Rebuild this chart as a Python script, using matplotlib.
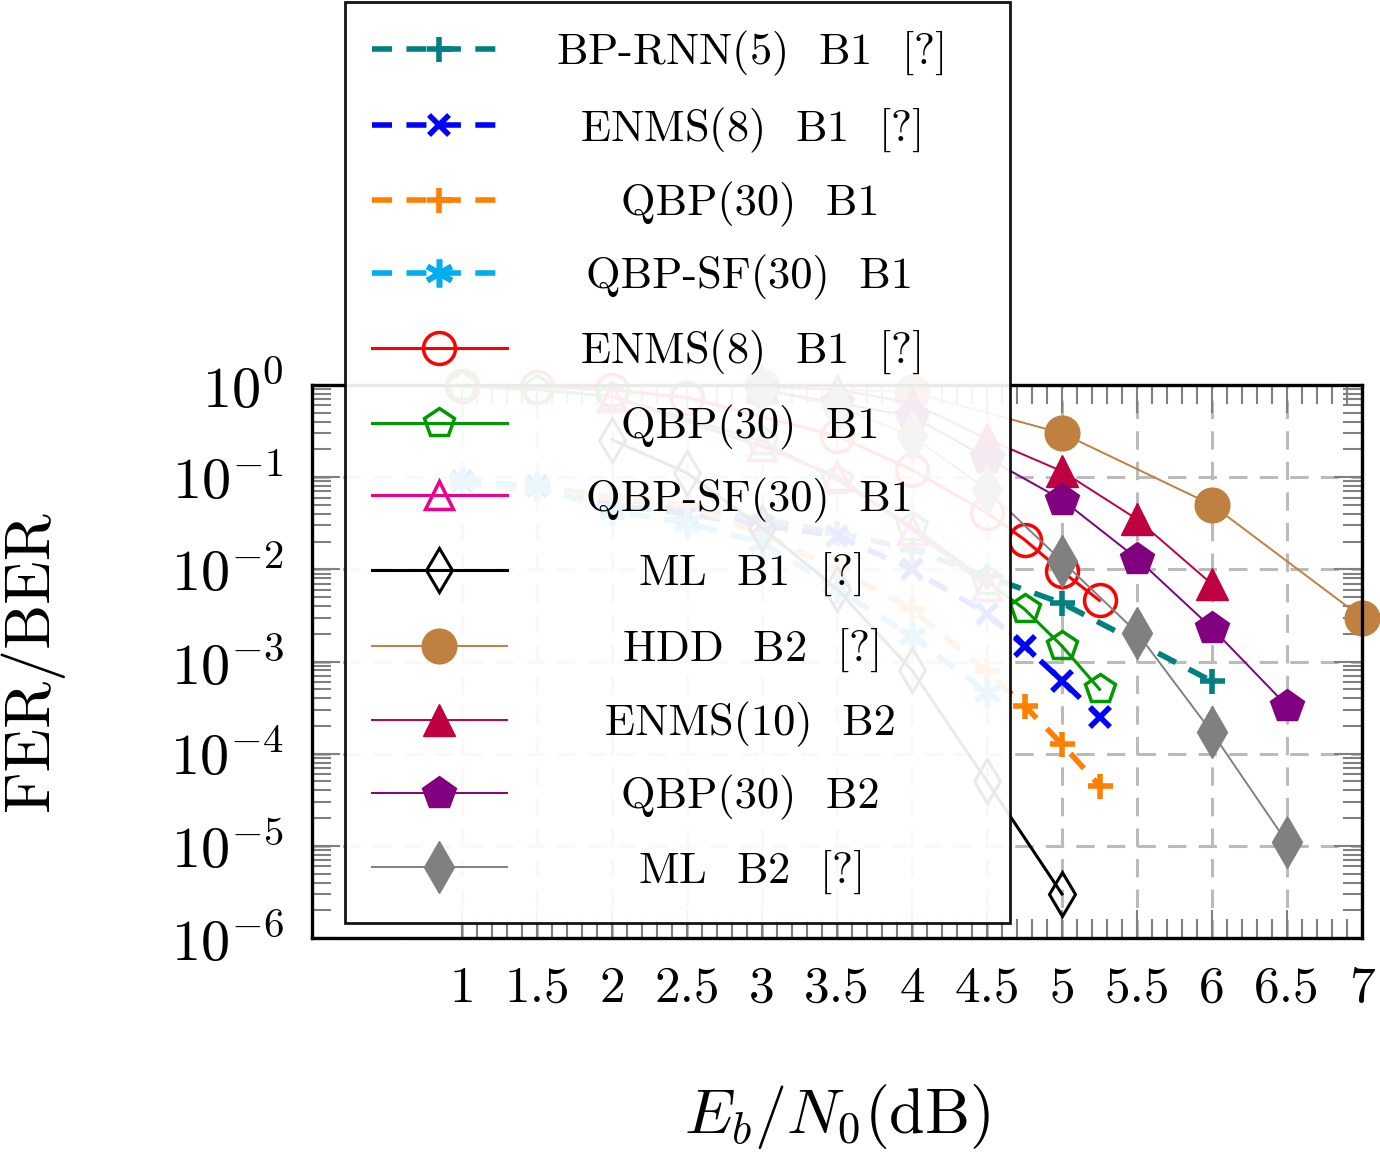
import numpy as np
import matplotlib.pyplot as plt
from matplotlib.ticker import FixedLocator, LogLocator, FuncFormatter, NullFormatter
from matplotlib.offsetbox import DrawingArea

plt.rcParams['font.family'] = ['cmr10', 'DejaVu Serif']
plt.rcParams['mathtext.fontset'] = 'cm'
plt.rcParams['axes.formatter.use_mathtext'] = True

# B1 curves (dashed = BER, solid = FER)
bprnn_x = [1, 1.5, 2, 2.5, 3, 3.5, 4, 4.5, 5, 6]
bprnn_y = [0.09, 0.08, 0.06, 0.045, 0.035, 0.025, 0.0164, 0.0084, 0.0043, 0.00061]

enms8_ber_x = [1, 1.5, 2, 2.5, 3, 3.5, 4, 4.5, 4.75, 5, 5.25]
enms8_ber_y = [0.09, 0.08, 0.05, 0.04, 0.03, 0.023, 0.01, 0.0033, 0.00147, 0.00062, 0.00025]

qbp_ber_x = [1, 1.5, 2, 2.5, 3, 3.5, 4, 4.5, 4.75, 5, 5.25]
qbp_ber_y = [0.085, 0.074, 0.06, 0.05, 0.024, 0.01, 0.0037, 0.00078, 0.00033, 0.000127, 4.5e-5]

qbpsf_ber_x = [1, 1.5, 2, 2.5, 3, 3.5, 4, 4.5]
qbpsf_ber_y = [0.09, 0.08, 0.043, 0.032, 0.0194, 0.0061, 0.00189, 0.00046]

enms8_fer_x = [1, 1.5, 2, 2.5, 3.5, 4, 4.5, 4.75, 5, 5.25]
enms8_fer_y = [0.97, 0.96, 0.89, 0.73, 0.28, 0.12, 0.041, 0.021, 0.0095, 0.0046]

qbp_fer_x = [1, 1.5, 2, 3, 3.5, 4, 4.5, 4.75, 5, 5.25]
qbp_fer_y = [0.97, 0.89, 0.75, 0.245, 0.094, 0.029, 0.0074, 0.0037, 0.00147, 0.0005]

qbpsf_fer_x = [2, 3, 3.5, 4, 4.5]
qbpsf_fer_y = [0.75, 0.216, 0.102, 0.027, 0.0066]

ml1_x = [2, 2.5, 3, 3.5, 4, 4.5, 5]
ml1_y = [0.255, 0.111, 0.0282, 0.0061, 0.0008, 5.0e-5, 3.0e-6]

# B2 curves
hdd_x = [3, 4, 5, 6, 7]
hdd_y = [0.97, 0.83, 0.30, 0.050, 0.0030]

enms10_x = [3, 3.5, 4, 4.5, 5, 5.5, 6]
enms10_y = [0.95, 0.89, 0.64, 0.26, 0.116, 0.035, 0.0069]

qbp2_x = [3, 3.5, 4, 4.5, 5, 5.5, 6, 6.5]
qbp2_y = [0.89, 0.64, 0.457, 0.162, 0.057, 0.0131, 0.0023, 0.00033]

ml2_x = [3, 3.5, 4, 4.5, 5, 5.5, 6, 6.5]
ml2_y = [0.89, 0.59, 0.28, 0.073, 0.0123, 0.00206, 0.00017, 1.09e-5]

q = r'  [$\mathbf{?}$]'
labels = ['BP-RNN(5)  B1' + q, 'ENMS(8)  B1' + q, 'QBP(30)  B1', 'QBP-SF(30)  B1',
          'ENMS(8)  B1' + q, 'QBP(30)  B1', 'QBP-SF(30)  B1', 'ML  B1' + q,
          'HDD  B2' + q, 'ENMS(10)  B2', 'QBP(30)  B2', 'ML  B2' + q]

fig = plt.figure(figsize=(13.8, 11.52), dpi=100)
ax = fig.add_axes([312 / 1380, 214 / 1152, 1050 / 1380, 553 / 1152])

dash = (0, (3.6, 2.6))
ax.plot(bprnn_x, bprnn_y, color='#008080', lw=4, ls=dash, marker='+', ms=18, mew=4, label=labels[0], clip_on=False)
ax.plot(enms8_ber_x, enms8_ber_y, color='#0000FF', lw=4, ls=dash, marker='x', ms=14, mew=4, label=labels[1], clip_on=False)
ax.plot(qbp_ber_x, qbp_ber_y, color='#FF8000', lw=4, ls=dash, marker='+', ms=18, mew=4, label=labels[2], clip_on=False)
ax.plot(qbpsf_ber_x, qbpsf_ber_y, color='#00AEEF', lw=4, ls=dash, marker=(6, 2, 0), ms=20, mew=4, label=labels[3], clip_on=False)

ax.plot(enms8_fer_x, enms8_fer_y, color='#FF0000', lw=2.2, marker='o', ms=23, mfc='none', mew=2.5, label=labels[4], clip_on=False)
ax.plot(qbp_fer_x, qbp_fer_y, color='#009900', lw=2.2, marker='p', ms=22, mfc='none', mew=2.5, label=labels[5], clip_on=False)
ax.plot(qbpsf_fer_x, qbpsf_fer_y, color='#EC008C', lw=2.2, marker='^', ms=20, mfc='none', mew=2.5, label=labels[6], clip_on=False)
ax.plot(ml1_x, ml1_y, color='black', lw=2.2, marker='d', ms=22, mfc='none', mew=2.2, label=labels[7], clip_on=False)

ax.plot(hdd_x, hdd_y, color='#BF8040', lw=1.4, marker='o', ms=25, label=labels[8], clip_on=False)
ax.plot(enms10_x, enms10_y, color='#BF0040', lw=1.4, marker='^', ms=23, label=labels[9], clip_on=False)
ax.plot(qbp2_x, qbp2_y, color='#800080', lw=1.4, marker='p', ms=25, label=labels[10], clip_on=False)
ax.plot(ml2_x, ml2_y, color='#808080', lw=1.4, marker='d', ms=26, label=labels[11], clip_on=False)

ax.set_yscale('log')
ax.set_xlim(0, 7)
ax.set_ylim(1e-6, 1)
ax.xaxis.set_major_locator(FixedLocator(np.arange(1, 7.01, 0.5)))
ax.xaxis.set_minor_locator(FixedLocator(np.arange(1, 7.01, 0.1)))
ax.xaxis.set_major_formatter(FuncFormatter(lambda v, p: f'{v:g}'))
ax.yaxis.set_major_locator(LogLocator(base=10, numticks=10))
ax.yaxis.set_minor_locator(LogLocator(base=10, subs=np.arange(2, 10), numticks=20))
ax.yaxis.set_minor_formatter(NullFormatter())
ax.yaxis.set_major_formatter(FuncFormatter(lambda v, p: r'$10^{%d}$' % round(np.log10(v))))

ax.tick_params(which='both', direction='in', top=True, right=True, color='#808080', width=1.5)
ax.tick_params(which='major', length=20)
ax.tick_params(which='minor', length=14)
ax.tick_params(axis='y', labelsize=42, pad=20)
ax.tick_params(axis='x', labelsize=37, pad=20)
ax.grid(True, which='major', color='#BBBBBB', lw=2.2, ls=(0, (6, 4)))
for s in ax.spines.values():
    s.set_linewidth(2.4)
    s.set_color('black')

ax.set_xlabel(r'$E_b/N_0$(dB)', fontsize=46)
ax.set_ylabel('FER/BER', fontsize=46)
ax.xaxis.set_label_coords(0.5, -0.26)
ax.yaxis.set_label_coords(-0.236, 0.5)

fs = 32
bpad = 0.6
hlen = 3.05
leg = ax.legend(loc='upper left', bbox_to_anchor=(33 / 1050, 936 / 553), fontsize=fs,
                numpoints=1, handlelength=hlen, handletextpad=0.8, labelspacing=0.62,
                borderpad=bpad, borderaxespad=0, fancybox=False, framealpha=0.92,
                edgecolor='black')
leg.get_frame().set_linewidth(2)

# center each label on one column and widen the box, like the original legend
fig.canvas.draw()
r = fig.canvas.get_renderer()
pt = 72 / fig.dpi
rows = leg._legend_handle_box.get_children()[0].get_children()
widths = [t.get_window_extent(r).width * pt for t in leg.get_texts()]
text_center = (750 - 345) * pt
handle_end = (bpad + hlen) * fs
inner = (1010 - 345) * pt - 2 * bpad * fs - hlen * fs
for row, w in zip(rows, widths):
    gap = text_center - w / 2 - handle_end
    row.sep = 0
    kids = row.get_children()
    kids.insert(1, DrawingArea(gap, 0))
    kids.append(DrawingArea(max(inner - gap - w, 0), 0))

fig.savefig('out.png', dpi=100)
